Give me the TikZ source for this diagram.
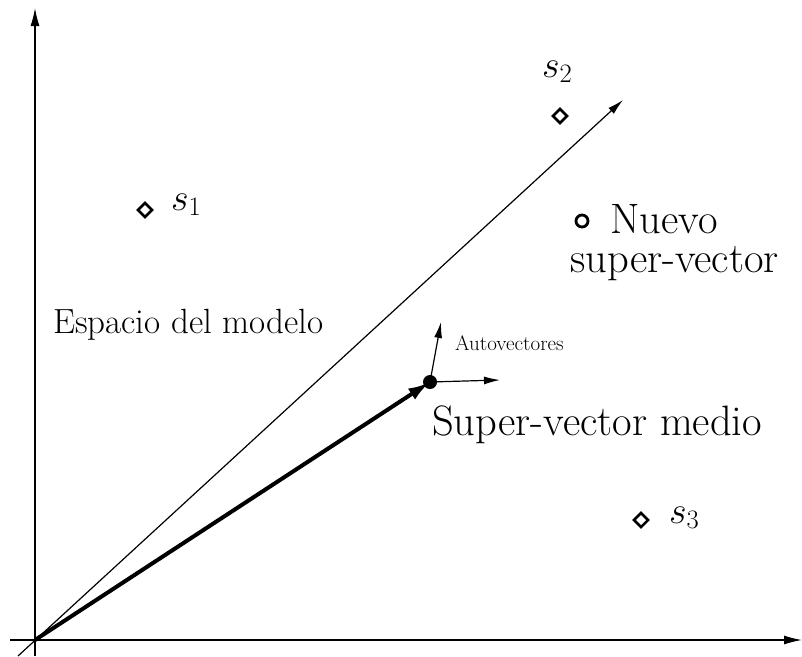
\RequirePackage{fix-cm}
\documentclass[tikz,border=0pt]{standalone}
\usetikzlibrary{arrows.meta}
\begin{document}
\begin{tikzpicture}[x=1pt,y=-1pt,
  thinln/.style={line width=1.2pt},
  tip/.style={-{Latex[length=18pt,width=9pt]}},
  smalltip/.style={-{Latex[length=16pt,width=8pt]}},
  dmark/.style={draw,line width=2.6pt,minimum size=10pt,inner sep=0pt,rotate=45},
  cmark/.style={draw,circle,line width=2.8pt,minimum size=12pt,inner sep=0pt},
  lbl/.style={inner sep=0pt,anchor=base west},
  slbl/.style={lbl,font=\fontsize{38}{44}\selectfont},
  big/.style={lbl,font=\fontsize{42.5}{48}\selectfont}]
\useasboundingbox (0,0) rectangle (802,656);
\coordinate (O) at (35,640);
\coordinate (ybot) at (35,656);
\coordinate (ytop) at (35,8);
\coordinate (xl) at (10,640);
\coordinate (xr) at (802,640);
\coordinate (dl) at (18,656);
\coordinate (dr) at (623,100);
\coordinate (M) at (430,382);
\coordinate (e1) at (500,380);
\coordinate (e2) at (441,322);
\draw[thinln,tip] (ybot) -- (ytop);
\draw[thinln,tip] (xl) -- (xr);
\draw[thinln,smalltip] (dl) -- (dr);
\draw[line width=4pt,-{Latex[length=22pt,width=13pt]}] (O) -- (M);
\draw[thinln,smalltip] (M) -- (e1);
\draw[thinln,smalltip] (M) -- (e2);
\fill (M) circle (7);
\node[dmark] (s1) at (145,210) {};
\node[dmark] (s2) at (560,116) {};
\node[dmark] (s3) at (641,520) {};
\node[cmark] (nv) at (582,221) {};
\node[slbl] (l1) at (171,210) {$s_1$};
\node[slbl] (l2) at (542,77) {$s_2$};
\node[slbl] (l3) at (669,523) {$s_3$};
\node[big] (nvl1) at (610,233) {Nuevo};
\node[big] (nvl2) at (570,272) {super-vector};
\node[lbl,font=\fontsize{35}{40}\selectfont] (esp) at (53,333) {Espacio del modelo};
\node[lbl,font=\fontsize{21}{24}\selectfont] (auto) at (455,350) {Autovectores};
\node[big] (svm) at (432,435) {Super-vector medio};
\end{tikzpicture}
\end{document}
